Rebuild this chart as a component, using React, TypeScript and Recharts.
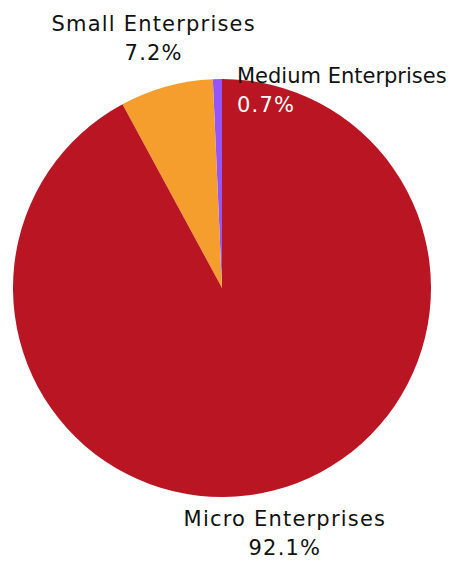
import React from "react";
import { PieChart, Pie, Cell } from "recharts";

const categories = ["Medium Enterprises", "Small Enterprises", "Micro Enterprises"];
const shares = [0.7, 7.2, 92.1];
const colors = ["#9356FE", "#F59D2D", "#BA1522"];

const data = categories.map((name, i) => ({ name, value: shares[i] }));

const FONT = "'DejaVu Sans', sans-serif";
const FS = 21;
const LS = 1.2;
const RAD = Math.PI / 180;

const renderLabel = (props: any) => {
  const { cx, cy, midAngle, outerRadius, name, value } = props;
  const pct = `${Number(value).toFixed(1)}%`;
  if (name === "Medium Enterprises") {
    const x = cx + 15;
    const y = cy - outerRadius + 4;
    return (
      <g>
        <text x={x} y={y} fill="#111" fontSize={FS} fontFamily={FONT} letterSpacing={0} textAnchor="start">
          {name}
        </text>
        <text x={x} y={y + 29} fill="#ffffff" fontSize={FS} fontFamily={FONT} letterSpacing={LS} textAnchor="start">
          {pct}
        </text>
      </g>
    );
  }
  const r = outerRadius + 47;
  const x = cx + r * Math.cos(-midAngle * RAD);
  const y = cy + r * Math.sin(-midAngle * RAD);
  return (
    <g>
      <text x={x} y={y - 10} fill="#111" fontSize={FS} fontFamily={FONT} letterSpacing={LS} textAnchor="middle">
        {name}
      </text>
      <text x={x} y={y + 19} fill="#111" fontSize={FS} fontFamily={FONT} letterSpacing={LS} textAnchor="middle">
        {pct}
      </text>
    </g>
  );
};

export default function App() {
  return (
    <div style={{ position: "absolute", left: 0, top: 0, width: 452, height: 569, background: "#fff" }}>
      <PieChart width={452} height={569} margin={{ top: 0, right: 0, bottom: 0, left: 0 }}>
        <Pie
          data={data}
          dataKey="value"
          nameKey="name"
          cx={222}
          cy={288}
          outerRadius={209}
          startAngle={90}
          endAngle={450}
          stroke="none"
          labelLine={false}
          label={renderLabel}
          isAnimationActive={false}
        >
          {data.map((d, i) => (
            <Cell key={d.name} fill={colors[i]} />
          ))}
        </Pie>
      </PieChart>
    </div>
  );
}
